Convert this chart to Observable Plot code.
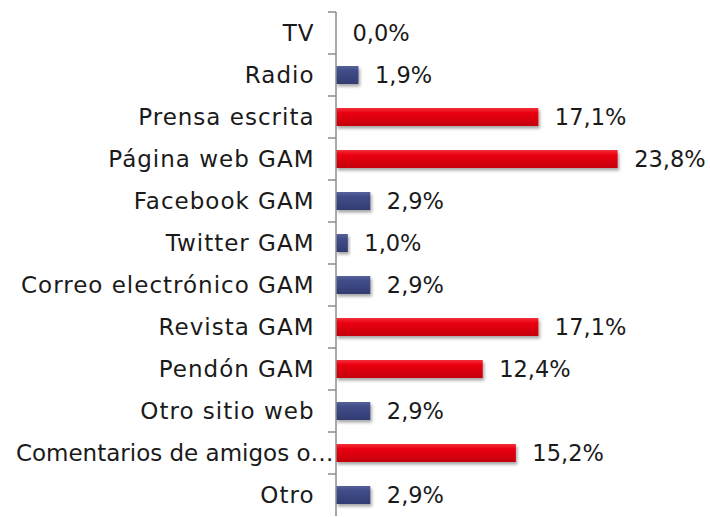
<!DOCTYPE html>
<html>
<head>
<meta charset="utf-8">
<script src="https://cdn.jsdelivr.net/npm/d3@7"></script>
<script src="https://cdn.jsdelivr.net/npm/@observablehq/plot@0.6"></script>
<style>
  html, body { margin: 0; padding: 0; background: #fff; }
  #chart svg { display: block; }
</style>
</head>
<body>
<div id="chart"></div>
<script>
const categories = ["TV", "Radio", "Prensa escrita", "Página web GAM", "Facebook GAM", "Twitter GAM",
  "Correo electrónico GAM", "Revista GAM", "Pendón GAM", "Otro sitio web", "Comentarios de amigos o…", "Otro"];
const values = [0.0, 1.9, 17.1, 23.8, 2.9, 1.0, 2.9, 17.1, 12.4, 2.9, 15.2, 2.9];
const highlighted = ["Prensa escrita", "Página web GAM", "Revista GAM", "Pendón GAM", "Comentarios de amigos o…"];
const truncated = ["Comentarios de amigos o…"];

const data = categories.map((c, i) => ({category: c, value: values[i], hi: highlighted.includes(c)}));
const fmt = v => v.toFixed(1).replace(".", ",") + "%";
const font = "DejaVu Sans";

const plot = Plot.plot({
  width: 710,
  height: 517,
  marginLeft: 336,
  marginRight: 19,
  marginTop: 11,
  marginBottom: 0,
  style: {fontFamily: font, background: "#fff"},
  x: {domain: [0, 30], axis: null},
  y: {domain: categories, paddingInner: 0.56, paddingOuter: 0.28, axis: null},
  marks: [
    Plot.barX(data.filter(d => !d.hi), {y: "category", x: "value", fill: "url(#gradBlue)", filter: d => d.value > 0}),
    Plot.barX(data.filter(d => d.hi), {y: "category", x: "value", fill: "url(#gradRed)"}),
    Plot.text(data, {y: "category", x: "value", text: d => fmt(d.value), textAnchor: "start", dx: 16, fontSize: 22.5, fill: "#1a1a1a"}),
    Plot.text(data.filter(d => !truncated.includes(d.category)), {y: "category", x: 0, text: "category", textAnchor: "end", dx: -22, fontSize: 23, fill: "#1a1a1a", className: "cat-label"}),
    Plot.text(data.filter(d => truncated.includes(d.category)), {y: "category", x: 0, text: "category", textAnchor: "end", dx: -3, fontSize: 23, fill: "#1a1a1a"})
  ]
});

// gradients & shadow
const svg = d3.select(plot);
svg.selectAll(".cat-label text").style("letter-spacing", "1px");
const defs = svg.insert("defs", ":first-child");
const gr = defs.append("linearGradient").attr("id", "gradRed").attr("x1", 0).attr("y1", 0).attr("x2", 0).attr("y2", 1);
gr.append("stop").attr("offset", "0%").attr("stop-color", "#f2323a");
gr.append("stop").attr("offset", "25%").attr("stop-color", "#ec0012");
gr.append("stop").attr("offset", "100%").attr("stop-color", "#c4000c");
const gb = defs.append("linearGradient").attr("id", "gradBlue").attr("x1", 0).attr("y1", 0).attr("x2", 0).attr("y2", 1);
gb.append("stop").attr("offset", "0%").attr("stop-color", "#56629c");
gb.append("stop").attr("offset", "25%").attr("stop-color", "#414d89");
gb.append("stop").attr("offset", "100%").attr("stop-color", "#323c72");
const f = defs.append("filter").attr("id", "shadow").attr("x", "-10%").attr("y", "-30%").attr("width", "130%").attr("height", "200%");
f.append("feDropShadow").attr("dx", 1.5).attr("dy", 2.5).attr("stdDeviation", 1.5).attr("flood-color", "#000").attr("flood-opacity", 0.35);
svg.selectAll("g[aria-label='bar'] rect").attr("filter", "url(#shadow)");

// y axis line and ticks between bands
const ys = plot.scale("y");
const xs = plot.scale("x");
const x0 = xs.apply(0);
const step = ys.step;
const top0 = ys.apply(categories[0]) - (step - ys.bandwidth) / 2;
const ax = svg.append("g").attr("stroke", "#8c8c8c").attr("stroke-width", 1.5);
ax.append("line").attr("x1", x0).attr("x2", x0).attr("y1", top0).attr("y2", top0 + step * categories.length);
categories.forEach((c, i) => {
  const y = top0 + i * step;
  ax.append("line").attr("x1", x0 - 8).attr("x2", x0).attr("y1", y).attr("y2", y);
});

document.getElementById("chart").appendChild(plot);
</script>
</body>
</html>
